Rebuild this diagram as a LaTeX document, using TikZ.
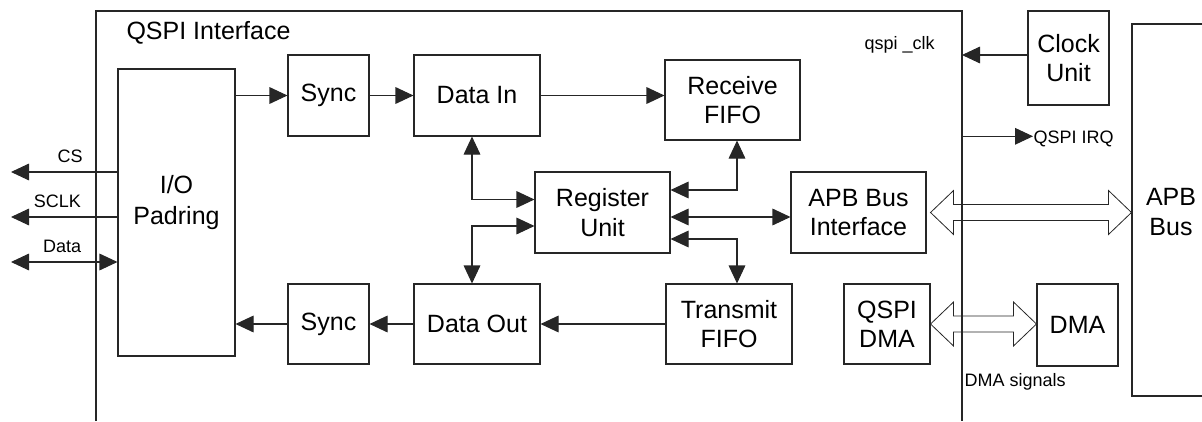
\documentclass[tikz,border=0pt]{standalone}
\usepackage{fontspec}
\setmainfont{Liberation Sans}
\usetikzlibrary{arrows.meta,calc}
\begin{document}
\begin{tikzpicture}[x=0.75pt,y=-0.75pt,
  line width=0.8pt, draw={black!85},
  sz/.style 2 args={minimum width=#1*0.75pt, minimum height=#2*0.75pt},
  blk/.style={draw, rectangle, inner sep=0pt, align=center, font=\fontsize{18.75}{22}\selectfont},
  lbl/.style={inner sep=0pt, font=\fontsize{13.5}{16}\selectfont},
  arr/.style={-{Triangle[length=13.5pt,width=12.5pt]}},
  biarr/.style={{Triangle[length=13.5pt,width=12.5pt]}-{Triangle[length=13.5pt,width=12.5pt]}},
  hollow/.style={line width=0.6pt}]
\useasboundingbox (0,0) rectangle (1202,421);

% frame
\coordinate (fNW) at (96,11);
\coordinate (fNE) at (962,11);
\draw (96,421) -- (fNW) -- (fNE) -- (962,421);
\node[anchor=base west, inner sep=0pt, font=\fontsize{18.75}{22}\selectfont] (title) at (126,39.5) {QSPI Interface};

% blocks
\node[blk, sz={117}{287}, label={[align=center, font=\fontsize{18.75}{23}\selectfont, yshift=7.5pt]center:I/O\\Padring}] (pad) at (176.5,212.5) {};
\node[blk, sz={81}{81}] (sync1) at (328.5,95.5) {Sync};
\node[blk, sz={126}{81}] (datain) at (477,95.5) {Data In};
\node[blk, sz={135}{80}] (rfifo) at (732.5,100) {Receive\\FIFO};
\node[blk, sz={135}{81}] (reg) at (602.5,212.5) {Register\\Unit};
\node[blk, sz={135}{81}] (apbif) at (858.5,212.5) {APB Bus\\Interface};
\node[blk, sz={81}{80}] (sync2) at (328.5,324) {Sync};
\node[blk, sz={126}{80}] (dataout) at (477,324) {Data Out};
\node[blk, sz={126}{80}] (tfifo) at (729,324) {Transmit\\FIFO};
\node[blk, sz={86}{80}] (qdma) at (887,324) {QSPI\\DMA};
\node[blk, sz={81}{82}] (dma) at (1077.5,325) {DMA};
\node[blk, sz={81}{94}] (clock) at (1068.5,58) {Clock\\Unit};
\node[blk, draw=none, sz={78}{372}] (apbbus) at (1171,212) {APB\\Bus};
\draw (1202,24) -| (1132,396) -- (1202,396);

% data path arrows
\draw[arr] (sync1.west -| pad.east) -- (sync1.west);
\draw[arr] (sync1.east) -- (datain.west);
\draw[arr] (datain.east) -- (datain.east -| rfifo.west);
\draw[arr] (tfifo.west) -- (dataout.east);
\draw[arr] (dataout.west) -- (sync2.east);
\draw[arr] (sync2.west) -- (sync2.west -| pad.east);

% register unit connections
\draw[biarr] ($(datain.south)+(-5,0)$) |- ($(reg.west)+(0,-13)$);
\draw[biarr] ($(dataout.north)+(-5,0)$) |- ($(reg.west)+(0,13.5)$);
\draw[biarr] ($(reg.east)+(0,-22.5)$) -| ($(rfifo.south)+(4.5,0)$);
\draw[biarr] ($(reg.east)+(0,4.5)$) coordinate (ra) -- (ra -| apbif.west);
\draw[biarr] ($(reg.east)+(0,26.5)$) -| ($(tfifo.north)+(8,0)$);

% external pins
\coordinate (cs) at (11,172);
\coordinate (sclk) at (11,217);
\coordinate (dat) at (11,262);
\draw[arr] (cs -| pad.west) -- (cs);
\draw[arr] (sclk -| pad.west) -- (sclk);
\draw[biarr] (dat) -- (dat -| pad.west);
\node[lbl, anchor=base west] (cslbl) at (57,162.5) {CS};
\node[lbl, anchor=base west] (sclklbl) at (33.3,207.7) {SCLK};
\node[lbl, anchor=base west] (datlbl) at (42.7,252.7) {Data};

% clock and irq
\draw[arr] ($(clock.west)+(0,-3)$) coordinate (ck) -- (ck -| fNE);
\node[lbl, anchor=base west] (clklbl) at (864,49.3) {qspi \_clk};
\coordinate (irq) at (1033,136.3);
\draw[arr] (irq -| fNE) -- (irq);
\node[lbl, anchor=base west] (irqlbl) at (1033,143.3) {QSPI IRQ};

% hollow double arrows
\coordinate (h1) at ($(apbif.east)+(4,0)$);
\coordinate (h2) at (h1 -| apbbus.west);
\draw[hollow] (h1) -- ++(23,-22) -- ++(0,14) -- ($(h2)+(-23,-8)$) -- ++(0,-14) -- (h2)
  -- ++(-23,22) -- ++(0,-14) -- ($(h1)+(23,8)$) -- ++(0,14) -- cycle;
\coordinate (h3) at (qdma.east);
\coordinate (h4) at (h3 -| dma.west);
\draw[hollow] (h3) -- ++(23,-22) -- ++(0,14) -- ($(h4)+(-23,-8)$) -- ++(0,-14) -- (h4)
  -- ++(-23,22) -- ++(0,-14) -- ($(h3)+(23,8)$) -- ++(0,14) -- cycle;
\node[lbl, anchor=base west] (dmalbl) at (964,386) {DMA signals};
\end{tikzpicture}
\end{document}
